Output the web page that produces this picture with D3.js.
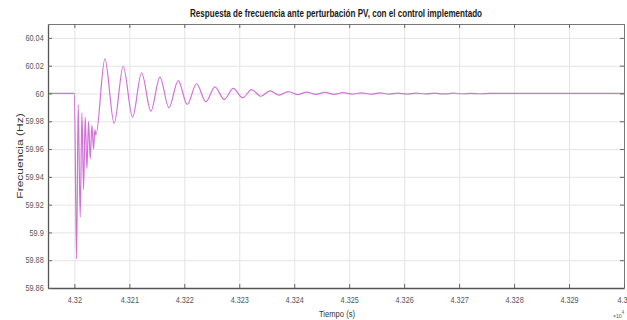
<!DOCTYPE html>
<html>
<head>
<meta charset="utf-8">
<script src="https://cdn.jsdelivr.net/npm/d3@7"></script>
<style>
    body { margin: 0; background: #fff; }
    svg { display: block; font-family: "Liberation Sans", Arial, sans-serif; }
</style>
</head>
<body>
<div class="chart"></div>
<script>
// 数据 (tiempo en s, frecuencia en Hz)
var times = [43195.2, 43200.0, 43200.40, 43200.69, 43201.06, 43201.37, 43201.67, 43201.97, 43202.28,
    43202.58, 43202.88, 43203.19, 43203.49, 43203.73, 43203.91, 43205.55, 43207.24, 43208.88,
    43210.59, 43212.23, 43213.92, 43215.56, 43217.20, 43218.89, 43220.53, 43222.24, 43223.93,
    43225.57, 43227.26, 43228.90, 43230.61, 43232.25, 43233.94, 43235.58, 43237.27, 43238.91,
    43240.62, 43242.26, 43243.95, 43245.59, 43247.23, 43248.87, 43250.60, 43252.24, 43253.88,
    43255.60, 43257.24, 43258.88, 43260.52, 43262.16, 43263.89, 43265.53, 43267.25, 43268.89,
    43270.53, 43272.17, 43273.80, 43275.50, 43300.0];
var freq = [60.000, 60.000, 59.881, 59.992, 59.911, 59.986, 59.931, 59.983, 59.946,
    59.980, 59.953, 59.977, 59.960, 59.974, 59.970, 60.0249, 59.9785, 60.0196,
    59.9830, 60.0149, 59.9873, 60.0117, 59.9897, 60.0093, 59.9921, 60.0070, 59.9940,
    60.0048, 59.9957, 60.0036, 59.9969, 60.0027, 59.9980, 60.0019, 59.9988, 60.0014,
    59.9992, 60.0010, 59.9993, 60.0008, 59.9994, 60.0006, 59.9995, 60.0005, 59.9995,
    60.0004, 59.9996, 60.0003, 59.9996, 60.0003, 59.9997, 60.0002, 59.9997, 60.0002,
    59.9998, 60.0001, 59.9998, 60.0000, 60.0000];
var xTicks = [43200, 43210, 43220, 43230, 43240, 43250, 43260, 43270, 43280, 43290, 43300];
var xLabels = ["4.32", "4.321", "4.322", "4.323", "4.324", "4.325", "4.326", "4.327", "4.328", "4.329", "4.33"];
var yTicks = [59.86, 59.88, 59.9, 59.92, 59.94, 59.96, 59.98, 60, 60.02, 60.04];
var yLabels = ["59.86", "59.88", "59.9", "59.92", "59.94", "59.96", "59.98", "60", "60.02", "60.04"];

// 画布
var width = 627, height = 320;
var padding = {left: 48, right: 3, top: 24, bottom: 32};
var plotW = width - padding.left - padding.right;
var plotH = height - padding.top - padding.bottom;
var svg = d3.select(".chart").append("svg")
            .attr("width", width)
            .attr("height", height);

// 比例尺
var xScale = d3.scaleLinear().domain([43195.2, 43300]).range([padding.left, padding.left + plotW]);
var yScale = d3.scaleLinear().domain([59.86, 60.05]).range([padding.top + plotH, padding.top]);

// grid
svg.append("g").attr("class", "grid")
   .attr("transform", "translate(0," + (padding.top + plotH) + ")")
   .call(d3.axisBottom(xScale).tickValues(xTicks).tickSize(-plotH).tickFormat(""));
svg.append("g").attr("class", "grid")
   .attr("transform", "translate(" + padding.left + ",0)")
   .call(d3.axisLeft(yScale).tickValues(yTicks).tickSize(-plotW).tickFormat(""));
svg.selectAll(".grid .domain").remove();
svg.selectAll(".grid line").attr("stroke", "#e4e4e4").attr("stroke-width", 1);

// 曲线
var points = times.map(function(t, i) { return [t, freq[i]]; });
var line = d3.line()
    .x(function(d) { return xScale(d[0]); })
    .y(function(d) { return yScale(d[1]); })
    .curve(d3.curveMonotoneX);
svg.append("path").datum(points)
   .attr("d", line)
   .attr("fill", "none")
   .attr("stroke", "#d072d8")
   .attr("stroke-width", 1.2);

// 坐标轴
var xAxis = d3.axisBottom(xScale).tickValues(xTicks)
    .tickFormat(function(d, i) { return xLabels[i]; })
    .tickSizeInner(-4).tickSizeOuter(0).tickPadding(9);
var yAxis = d3.axisLeft(yScale).tickValues(yTicks)
    .tickFormat(function(d, i) { return yLabels[i]; })
    .tickSizeInner(-4).tickSizeOuter(0).tickPadding(5);
var topAxis = d3.axisTop(xScale).tickValues(xTicks).tickFormat("").tickSizeInner(-4).tickSizeOuter(0);
var rightAxis = d3.axisRight(yScale).tickValues(yTicks).tickFormat("").tickSizeInner(-4).tickSizeOuter(0);

svg.append("g").attr("class", "axis").attr("transform", "translate(0," + padding.top + ")").call(topAxis);
svg.append("g").attr("class", "axis").attr("transform", "translate(" + (padding.left + plotW) + ",0)").call(rightAxis);
svg.append("g").attr("class", "axis main").attr("transform", "translate(0," + (padding.top + plotH) + ")").call(xAxis);
svg.append("g").attr("class", "axis main").attr("transform", "translate(" + padding.left + ",0)").call(yAxis);

svg.selectAll(".axis .domain").attr("stroke", "#777").attr("stroke-width", 1);
svg.selectAll(".axis line").attr("stroke", "#666");
svg.selectAll(".main .domain").attr("stroke", "#555").attr("stroke-width", 1.3);
svg.selectAll(".axis text")
   .attr("fill", "#555")
   .style("font-size", "8.5px")
   .style("font-family", "'Liberation Sans', Arial, sans-serif")
   .attr("transform", "scale(0.86,1)");

// 文字
svg.append("text")
   .attr("x", padding.left + plotW / 2).attr("y", 17)
   .attr("text-anchor", "middle")
   .attr("textLength", 292).attr("lengthAdjust", "spacingAndGlyphs")
   .style("font-size", "10px").style("font-weight", "bold").attr("fill", "#1a1a1a")
   .text("Respuesta de frecuencia ante perturbación PV, con el control implementado");

svg.append("text")
   .attr("transform", "translate(23," + (padding.top + plotH / 2) + ") scale(0.8,1) rotate(-90)")
   .attr("text-anchor", "middle")
   .style("font-size", "12px").attr("fill", "#333")
   .text("Frecuencia (Hz)");

svg.append("text")
   .attr("transform", "translate(337,317) scale(0.8,1)")
   .attr("text-anchor", "middle")
   .style("font-size", "9.5px").attr("fill", "#333")
   .text("Tiempo (s)");

var expo = svg.append("text")
   .attr("transform", "translate(613,318) scale(0.85,1)")
   .style("font-size", "6px").attr("fill", "#555");
expo.append("tspan").text("\u00d710");
expo.append("tspan").attr("dy", -4).style("font-size", "5px").text("4");
</script>
</body>
</html>
